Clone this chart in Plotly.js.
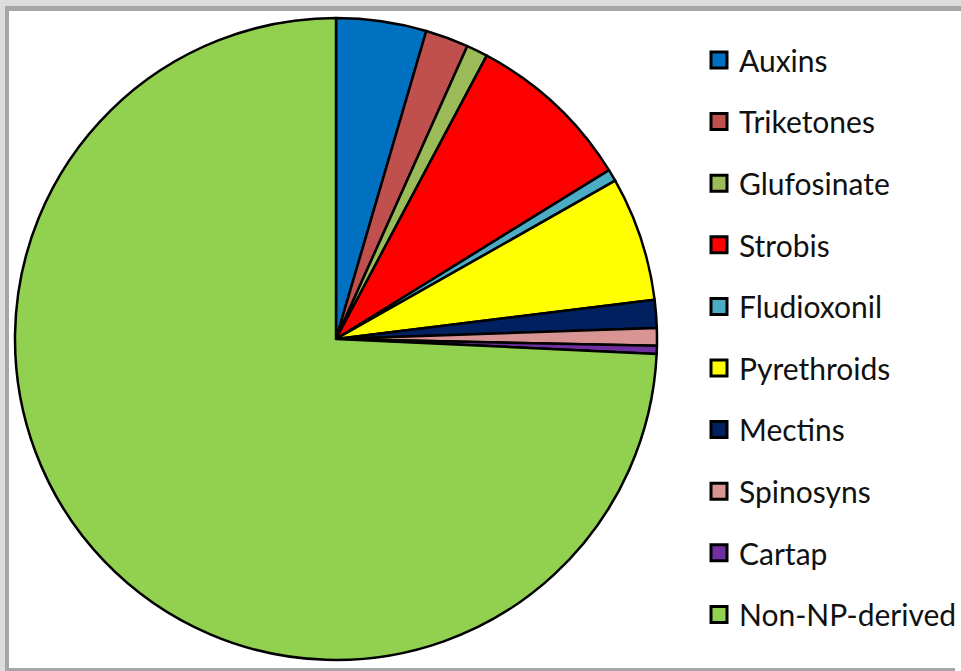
<!DOCTYPE html>
<html>
<head>
<meta charset="utf-8">
<script src="https://cdn.plot.ly/plotly-3.0.1.min.js"></script>
<style>
html,body{margin:0;padding:0;background:#fff;overflow:hidden;}
#chart{width:961px;height:671px;}
</style>
</head>
<body>
<div id="chart"></div>
<script>
var categories = ["Auxins","Triketones","Glufosinate","Strobis","Fludioxonil","Pyrethroids","Mectins","Spinosyns","Cartap","Non-NP-derived"];
var shares = [4.54, 2.17, 1.07, 8.40, 0.61, 6.26, 1.40, 0.89, 0.40, 74.26];
var colors = ["#0070C0","#C0504D","#9BBB59","#FF0000","#4BACC6","#FFFF00","#002060","#D99594","#7030A0","#92D050"];

var traces = [{
  type: "pie",
  labels: categories,
  values: shares,
  sort: false,
  direction: "clockwise",
  rotation: 0,
  textinfo: "none",
  hoverinfo: "label+percent",
  marker: {colors: colors, line: {color: "#000", width: 2.5}},
  domain: {x: [15/961, 657/961], y: [11/671, 653/671]},
  showlegend: false
}];
// legend entries built from the same category/colour arrays
categories.forEach(function(c, i){
  traces.push({
    type: "scatter", mode: "markers", x: [null], y: [null],
    name: c, legendgroup: "g" + i, showlegend: true, hoverinfo: "skip",
    marker: {symbol: "square", size: 16, color: colors[i], line: {color: "#000", width: 3}}
  });
});

var layout = {
  width: 961, height: 671,
  margin: {l: 0, r: 0, t: 0, b: 0, autoexpand: false},
  paper_bgcolor: "#fff", plot_bgcolor: "rgba(0,0,0,0)",
  xaxis: {visible: false, range: [0,1]},
  yaxis: {visible: false, range: [0,1]},
  showlegend: true,
  legend: {
    x: 699/961, xanchor: "left", y: 1 - 34/671, yanchor: "top",
    traceorder: "grouped", tracegroupgap: 19.6,
    font: {family: "Lato, 'Open Sans', sans-serif", size: 30, color: "#111"},
    bgcolor: "rgba(0,0,0,0)", borderwidth: 0, itemsizing: "trace"
  },
  shapes: [
    {type: "rect", xref: "paper", yref: "paper", x0: 0, x1: 1, y0: 1 - 6/671, y1: 1,
     line: {width: 0}, fillcolor: "#dcdcdc", layer: "above"},
    {type: "rect", xref: "paper", yref: "paper", x0: 5/961, x1: 1, y0: 1 - 11/671, y1: 1 - 6/671,
     line: {width: 0}, fillcolor: "#a6a6a6", layer: "above"},
    {type: "rect", xref: "paper", yref: "paper", x0: 0, x1: 5/961, y0: 0, y1: 1,
     line: {width: 0}, fillcolor: "#dcdcdc", layer: "above"},
    {type: "rect", xref: "paper", yref: "paper", x0: 5/961, x1: 9/961, y0: 0, y1: 1 - 6/671,
     line: {width: 0}, fillcolor: "#a6a6a6", layer: "above"},
    {type: "rect", xref: "paper", yref: "paper", x0: 5/961, x1: 955/961, y0: 0, y1: 3/671,
     line: {width: 0}, fillcolor: "#a6a6a6", layer: "above"}
  ]
};
Plotly.newPlot("chart", traces, layout, {displayModeBar: false, staticPlot: true});
</script>
</body>
</html>
